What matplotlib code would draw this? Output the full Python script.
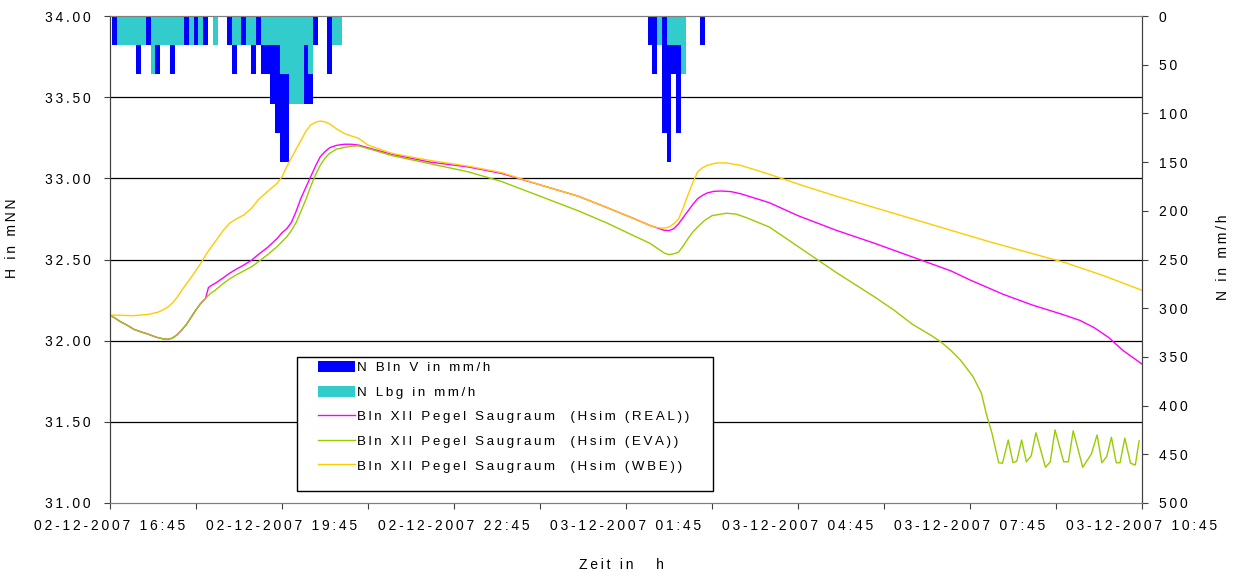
import numpy as np
import matplotlib
matplotlib.use("Agg")
import matplotlib.pyplot as plt
from matplotlib.patches import Patch, Rectangle
from matplotlib.lines import Line2D

plt.rcParams['font.family'] = ['Liberation Sans', 'DejaVu Sans']

# time axis: minutes after 02-12-2007 16:45
tick_minutes = list(range(0, 1081, 90))
tick_texts = ["02-12-2007 16:45", "", "02-12-2007 19:45", "", "02-12-2007 22:45", "",
              "03-12-2007 01:45", "", "03-12-2007 04:45", "", "03-12-2007 07:45", "",
              "03-12-2007 10:45"]
h_ticks = [31.0, 31.5, 32.0, 32.5, 33.0, 33.5, 34.0]
n_ticks = [0, 50, 100, 150, 200, 250, 300, 350, 400, 450, 500]

# rainfall, 5 min steps (time stamp in min, intensity in mm/h)
bln_v_t = [5, 30, 40, 50, 65, 80, 90, 100, 125, 130, 140, 150, 155, 160, 165, 170, 175, 180, 185, 205,
           210, 215, 230, 565, 570, 580, 585, 590, 595, 620]
bln_v_n = [30, 60, 30, 60, 60, 30, 30, 30, 30, 60, 30, 60, 30, 60, 60, 90, 120, 150, 150, 90,
           90, 30, 60, 30, 60, 120, 150, 60, 120, 30]
lbg_t = [10, 15, 20, 25, 30, 35, 45, 50, 55, 60, 65, 70, 75, 85, 95, 110, 130, 135, 145, 150,
         160, 165, 170, 175, 180, 185, 190, 195, 200, 205, 210, 235, 240, 575, 585, 590, 595, 600]
lbg_n = [30, 30, 30, 30, 30, 30, 60, 30, 30, 30, 30, 30, 30, 30, 30, 30, 30, 30, 30, 30,
         30, 30, 30, 30, 60, 60, 90, 90, 90, 30, 60, 30, 30, 30, 30, 30, 30, 60]

# simulated water level (mNN)
real_t = [0, 5, 10, 18, 25, 32, 40, 48, 55, 60, 65, 70, 75, 80, 85, 90, 95, 100, 103, 106,
          110, 118, 125, 132, 140, 148, 155, 165, 175, 180, 185, 190, 195, 200, 205, 210, 215, 220, 225, 230,
          237, 245, 252, 260, 275, 295, 335, 375, 410, 450, 490, 520, 545, 555, 565, 575, 580, 585, 590, 595,
          600, 605, 610, 615, 620, 625, 632, 640, 650, 660, 690, 720, 760, 800, 840, 880, 900, 935, 965, 995,
          1015, 1030, 1045, 1060, 1080]
real_h = [32.158, 32.14, 32.12, 32.095, 32.07, 32.055, 32.04, 32.022, 32.012, 32.008,
          32.015, 32.035, 32.065, 32.10, 32.145, 32.19, 32.23, 32.26, 32.327, 32.34,
          32.353, 32.385, 32.415, 32.44, 32.466, 32.495, 32.53, 32.575, 32.63, 32.665,
          32.69, 32.73, 32.80, 32.88, 32.945, 33.01, 33.075, 33.133, 33.165, 33.189,
          33.203, 33.21, 33.21, 33.205, 33.18, 33.148, 33.10, 33.07, 33.03, 32.96,
          32.89, 32.82, 32.76, 32.735, 32.71, 32.69, 32.68, 32.678, 32.69, 32.72,
          32.76, 32.80, 32.84, 32.875, 32.895, 32.91, 32.92, 32.922, 32.918, 32.905,
          32.85, 32.77, 32.68, 32.60, 32.515, 32.43, 32.374, 32.285, 32.22, 32.165,
          32.125, 32.08, 32.02, 31.94, 31.856]

eva_t = [0, 5, 10, 18, 25, 32, 40, 48, 55, 60, 65, 70, 75, 80, 85, 90, 95, 100, 105, 110,
         118, 125, 132, 140, 148, 155, 165, 175, 185, 190, 195, 200, 205, 210, 215, 220, 225, 230, 237, 245,
         252, 260, 275, 295, 335, 375, 410, 450, 490, 520, 545, 565, 575, 580, 585, 590, 595, 600, 605, 610,
         615, 622, 630, 645, 655, 665, 690, 720, 760, 800, 820, 840, 860, 870, 880, 890, 903, 912, 917, 923,
         930, 934, 940, 945, 949, 954, 959, 964, 969, 979, 984, 989, 998, 1003, 1008, 1018, 1027, 1033, 1038,
         1043, 1048, 1053, 1057, 1062, 1068, 1073, 1077]
eva_h = [32.158, 32.14, 32.12, 32.095, 32.07, 32.055, 32.04, 32.022, 32.012, 32.008,
         32.015, 32.035, 32.065, 32.10, 32.145, 32.19, 32.23, 32.26, 32.29, 32.31,
         32.35, 32.38, 32.405, 32.43, 32.455, 32.485, 32.53, 32.58, 32.64, 32.68,
         32.73, 32.80, 32.87, 32.95, 33.02, 33.08, 33.125, 33.155, 33.18, 33.19,
         33.197, 33.20, 33.175, 33.14, 33.09, 33.04, 32.98, 32.89, 32.80, 32.725,
         32.655, 32.60, 32.56, 32.54, 32.53, 32.535, 32.545, 32.585, 32.63, 32.67,
         32.70, 32.74, 32.77, 32.785, 32.78, 32.76, 32.70, 32.58, 32.42, 32.27,
         32.19, 32.10, 32.03, 31.99, 31.94, 31.88, 31.78, 31.676, 31.55, 31.43,
         31.248, 31.245, 31.388, 31.248, 31.258, 31.388, 31.254, 31.29, 31.433, 31.22,
         31.254, 31.45, 31.254, 31.254, 31.445, 31.22, 31.302, 31.419, 31.248,
         31.285, 31.405, 31.248, 31.248, 31.40, 31.245, 31.234, 31.384]

wbe_t = [0, 25, 40, 50, 55, 60, 65, 70, 75, 85, 95, 102, 110, 118, 125, 132, 140, 148, 155, 165,
         175, 180, 185, 192, 200, 205, 210, 215, 220, 225, 230, 237, 245, 252, 260, 270, 282, 295, 335, 375,
         410, 450, 490, 520, 545, 555, 565, 570, 575, 580, 585, 590, 595, 600, 605, 610, 615, 620, 625, 635,
         645, 660, 690, 720, 760, 800, 840, 880, 920, 960, 1000, 1040, 1080]
wbe_h = [32.158, 32.154, 32.162, 32.175, 32.189, 32.205, 32.23, 32.265, 32.31, 32.39,
         32.477, 32.545, 32.61, 32.675, 32.723, 32.75, 32.774, 32.815, 32.867, 32.92,
         32.97, 33.01, 33.072, 33.15, 33.236, 33.29, 33.329, 33.345, 33.353, 33.348,
         33.335, 33.305, 33.277, 33.262, 33.247, 33.205, 33.18, 33.154, 33.11, 33.075,
         33.035, 32.96, 32.89, 32.82, 32.76, 32.735, 32.71, 32.70, 32.695, 32.693,
         32.70, 32.72, 32.75, 32.82, 32.90, 32.975, 33.04, 33.065, 33.08, 33.095,
         33.095, 33.08, 33.025, 32.965, 32.89, 32.82, 32.75, 32.68, 32.61, 32.545,
         32.48, 32.40, 32.31]

labels = ["N Bln V in mm/h", "N Lbg in mm/h",
          "Bln XII Pegel Saugraum  (Hsim (REAL))",
          "Bln XII Pegel Saugraum  (Hsim (EVA))",
          "Bln XII Pegel Saugraum  (Hsim (WBE))"]

c_blue = '#0000FF'
c_cyan = '#33CCCC'
c_real = '#FF00FF'
c_eva = '#99CC00'
c_wbe = '#FFCC00'
c_axis = '#404040'


def spaced(s):
    # Excel export uses letter spacing
    return '\u2009'.join(s)


W, H = 1234, 572
fig = plt.figure(figsize=(W / 100, H / 100), dpi=100)
fig.patch.set_facecolor('white')
rect = [110 / W, (H - 503) / H, 1032 / W, 487 / H]

# rain axis underneath, level axis on top
ax2 = fig.add_axes(rect)
ax = fig.add_axes(rect, sharex=ax2)
ax.set_zorder(ax2.get_zorder() + 1)
ax.patch.set_visible(False)
ax2.patch.set_facecolor('white')

h_min, h_max = 31.0, 34.0
n_min, n_max = 0, 500
ax.set_ylim(h_min, h_max)
ax2.set_ylim(n_max, n_min)
ax.set_xlim(0, 1080)

# horizontal grid at level ticks, drawn under the bars
for h in h_ticks[1:-1]:
    n = (h_max - h) / (h_max - h_min) * (n_max - n_min)
    ax2.axhline(n, color='black', lw=0.9, zorder=0.5)

ax2.bar(bln_v_t, bln_v_n, width=5, color=c_blue, linewidth=0, zorder=1)
ax2.bar(lbg_t, lbg_n, width=5, color=c_cyan, linewidth=0, zorder=1.1)

ax.plot(real_t, real_h, color=c_real, lw=1.0)
ax.plot(eva_t, eva_h, color=c_eva, lw=1.0)
ax.plot(wbe_t, wbe_h, color=c_wbe, lw=1.0)

# axes and ticks
for a in (ax, ax2):
    for side in ('left', 'right'):
        a.spines[side].set_color(c_axis)
    for side in ('top', 'bottom'):
        a.spines[side].set_color('#808080')

ax.yaxis.tick_left()
ax.set_yticks(h_ticks)
ax.set_yticklabels([spaced(f"{v:.2f}") for v in h_ticks], fontsize=10)
ax.tick_params(axis='y', direction='out', length=4.5, color=c_axis, pad=9.5)

ax2.yaxis.tick_right()
ax2.set_yticks(n_ticks)
ax2.set_yticklabels([spaced(str(v)) for v in n_ticks], fontsize=10)
ax2.tick_params(axis='y', direction='out', length=4, color=c_axis, pad=8)

ax.set_xticks(tick_minutes)
ax.set_xticklabels([spaced(s) for s in tick_texts], fontsize=10)
ax.tick_params(axis='x', direction='out', length=4.5, color=c_axis, pad=7)
ax2.tick_params(axis='x', labelbottom=False, length=0)

ax.set_ylabel(spaced("H in mNN"), fontsize=10)
ax.yaxis.set_label_coords(-0.088, 0.544)
ax2.set_ylabel(spaced("N in mm/h"), fontsize=10)
ax2.yaxis.set_label_position('right')
ax2.yaxis.set_label_coords(1.0717, 0.505)
ax.set_xlabel(spaced("Zeit in   h"), fontsize=10)
ax.xaxis.set_label_coords(0.496, -0.113)

# legend with a plain box
box = Rectangle((297 / W, (H - 491) / H), 416 / W, 134 / H, transform=fig.transFigure,
                facecolor='white', edgecolor='black', lw=1.0, zorder=4, clip_on=False)
ax.add_artist(box)
handles = [Patch(facecolor=c_blue, edgecolor='none'),
           Patch(facecolor=c_cyan, edgecolor='none'),
           Line2D([], [], color=c_real, lw=1.0),
           Line2D([], [], color=c_eva, lw=1.0),
           Line2D([], [], color=c_wbe, lw=1.0)]
leg = ax.legend(handles, [spaced(s) for s in labels], loc='upper left',
                bbox_to_anchor=(318 / W, (H - 361) / H), bbox_transform=fig.transFigure,
                frameon=False, borderpad=0, borderaxespad=0, fontsize=9.6,
                handlelength=2.8, handleheight=0.9, handletextpad=0.15, labelspacing=0.86)
leg.set_zorder(5)

fig.savefig("out.png", dpi=100)
